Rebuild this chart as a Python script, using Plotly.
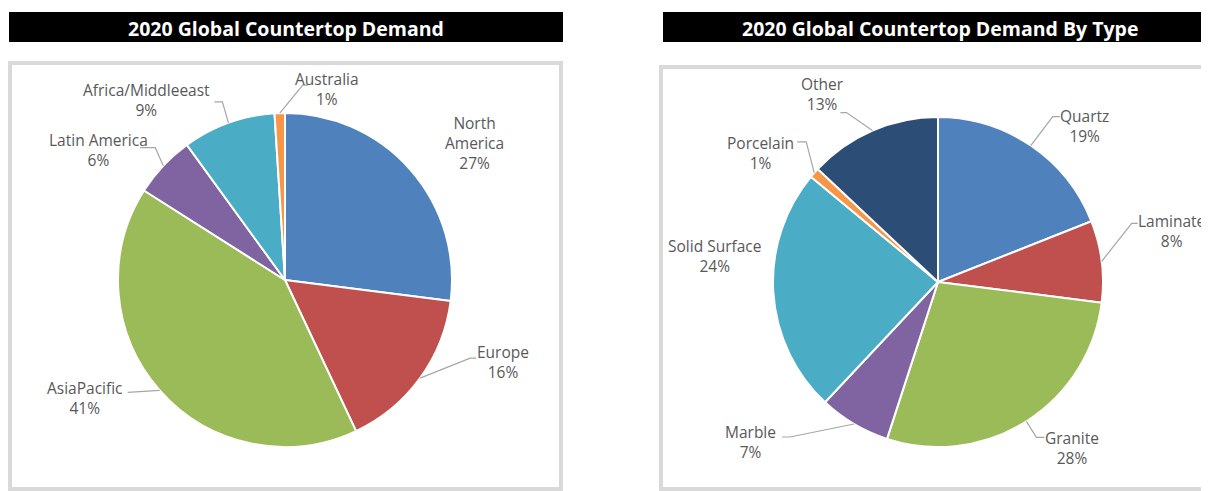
import math
import plotly.graph_objects as go

# ---------------- data ----------------
region_labels = ["North<br>America", "Europe", "AsiaPacific", "Latin America", "Africa/Middleeast", "Australia"]
region_values = [27, 16, 41, 6, 9, 1]
region_colors = ["#4F81BD", "#C0504D", "#9BBB59", "#8064A2", "#4BACC6", "#F79646"]

type_labels = ["Quartz", "Laminate", "Granite", "Marble", "Solid Surface", "Porcelain", "Other"]
type_values = [19, 8, 28, 7, 24, 1, 13]
type_colors = ["#4F81BD", "#C0504D", "#9BBB59", "#8064A2", "#4BACC6", "#F79646", "#2C4D75"]

title_left = "2020 Global Countertop Demand"
title_right = "2020 Global Countertop Demand By Type"

# ---------------- layout helpers ----------------
OFF = 8                     # browser default body margin
W, H = 1209 - OFF, 491 - OFF
FONT = "Open Sans"
TXT = "#595959"
LINE = "#A6A6A6"


def px(x):
    return (x - OFF) / W


def py(y):
    return 1 - (y - OFF) / H


# pie geometry (window pixels): centre and radius
left_geo = dict(cx=285, cy=280, r=167)
right_geo = dict(cx=938, cy=282, r=165)

# label placement: text offset from slice edge point, leader elbow & end offsets (None = no leader)
left_place = [
    dict(t=(64, -27), line=None),
    dict(t=(83, -16), line=[(50, -20), (56, -20)]),
    dict(t=(-75, 8), line=[(-32, 2)]),
    dict(t=(-65, -16), line=[(-8, -18), (-23, -18)]),
    dict(t=(-82, -23), line=[(-6, -21), (-14, -21)]),
    dict(t=(47, -24), line=[(23, -28), (28, -28)]),
]
right_place = [
    dict(t=(54, -20), line=[(22, -29), (29, -29)]),
    dict(t=(70, -30), line=[(30, -38), (36, -38)]),
    dict(t=(46, 27), line=[(10, 16), (18, 16)]),
    dict(t=(-104, 18), line=[(-64, 13), (-72, 13)]),
    dict(t=(-59, -36), line=None),
    dict(t=(-54, -20), line=[(-8, -31), (-17, -31)]),
    dict(t=(-50, -37), line=[(-26, -18), (-32, -18)]),
]

fig = go.Figure()
annotations = []
shapes = []


def add_pie(labels, values, colors, geo, place):
    cx, cy, r = geo["cx"], geo["cy"], geo["r"]
    fig.add_trace(go.Pie(
        labels=labels, values=values, sort=False, direction="clockwise", rotation=0,
        marker=dict(colors=colors, line=dict(color="white", width=2)),
        textinfo="none", hoverinfo="label+percent", showlegend=False,
        domain=dict(x=[px(cx - r), px(cx + r)], y=[py(cy + r), py(cy - r)]),
    ))
    total = sum(values)
    cum = 0
    for lab, v, pl in zip(labels, values, place):
        frac = (cum + v / 2) / total
        cum += v
        th = 2 * math.pi * frac
        ex = cx + r * math.sin(th)
        ey = cy - r * math.cos(th)
        pct = round(100 * v / total)
        tx, ty = ex + pl["t"][0], ey + pl["t"][1]
        annotations.append(dict(
            x=px(tx), y=py(ty), xref="paper", yref="paper", showarrow=False,
            text=f"{lab}<br>{pct}%", align="center", xanchor="center", yanchor="middle",
            font=dict(family=FONT, size=15.5, color=TXT),
        ))
        if pl["line"]:
            path = f"M {px(ex)} {py(ey)}"
            for (dx, dy) in pl["line"]:
                path += f" L {px(ex + dx)} {py(ey + dy)}"
            shapes.append(dict(type="path", xref="paper", yref="paper", path=path,
                               line=dict(color=LINE, width=1.2)))


add_pie(region_labels, region_values, region_colors, left_geo, left_place)
add_pie(type_labels, type_values, type_colors, right_geo, right_place)

# title bars and panel frames
for (x0, x1, frame_x0, frame_x1, frame_y0) in [
    (9, 563, 10, 561, 63),
    (663, 1215, 661, 1215, 67),
]:
    shapes.append(dict(type="rect", xref="paper", yref="paper", layer="below",
                       x0=px(x0), x1=px(x1), y0=py(42), y1=py(12),
                       fillcolor="black", line=dict(width=0)))
    shapes.append(dict(type="rect", xref="paper", yref="paper", layer="below",
                       x0=px(frame_x0), x1=px(frame_x1), y0=py(489), y1=py(frame_y0),
                       fillcolor="rgba(0,0,0,0)", line=dict(color="#D9D9D9", width=4)))

for title, cx in [(title_left, 286), (title_right, 940)]:
    annotations.append(dict(x=px(cx), y=py(28), xref="paper", yref="paper", showarrow=False,
                            text=f"<b>{title}</b>", font=dict(family=FONT, size=19.5, color="white"),
                            xanchor="center", yanchor="middle"))

fig.update_layout(
    width=W, height=H, margin=dict(l=0, r=0, t=0, b=0),
    paper_bgcolor="white", plot_bgcolor="white",
    annotations=annotations, shapes=shapes,
    font=dict(family=FONT),
)

fig.write_html("out.html")
